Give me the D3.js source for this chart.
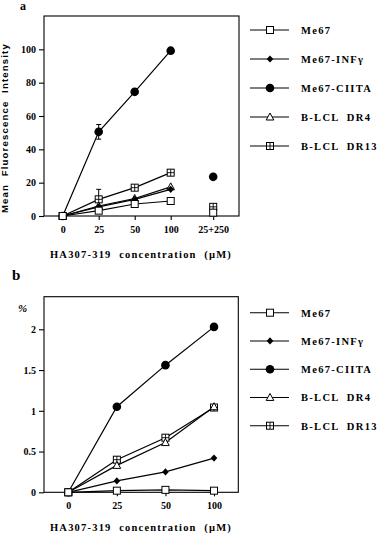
<!DOCTYPE html>
<html>
<head>
<meta charset="utf-8">
<script src="https://cdn.jsdelivr.net/npm/d3@7"></script>
<style>
  body { margin: 0; background: #fff; }
  svg { display: block; }
  text { font-weight: bold; fill: #000; }
</style>
</head>
<body>
<svg id="chart" width="378" height="533"></svg>
<script>
// panel a: mean fluorescence intensity
var catsA = ["0", "25", "50", "100", "25+250"];
var ticksA = [0, 20, 40, 60, 80, 100];
var me67A = [0, 3.2, 7.2, 9, 2];
var infA = [0, 5.5, 10, 16, null];
var ciitaA = [0, 50.5, 74.5, 99.2, 23.5];
var dr4A = [0, 6, 10.5, 17.5, null];
var dr13A = [0, 10, 17, 26, 5.5];
var ciitaErrA = [0, 4.4, 0, 0, 0];
var dr13ErrA = [0, 6, 0, 0, 0];

// panel b: percent
var catsB = ["0", "25", "50", "100"];
var ticksB = [0, 0.5, 1, 1.5, 2];
var me67B = [0, 0.02, 0.03, 0.02];
var infB = [0, 0.14, 0.25, 0.42];
var ciitaB = [0, 1.05, 1.56, 2.03];
var dr4B = [0, 0.33, 0.61, 1.05];
var dr13B = [0, 0.40, 0.67, 1.04];

var seriesNames = ["Me67", "Me67-INF\u03b3", "Me67-CIITA", "B-LCL  DR4", "B-LCL  DR13"];
var seriesShapes = ["square", "diamond", "circle", "triangle", "gridsquare"];

var serif = "'Liberation Serif', 'DejaVu Serif', serif";
var sans = "'Liberation Sans', 'DejaVu Sans', sans-serif";

var svg = d3.select("#chart");

function drawMarker(g, shape, x, y) {
    if (shape == "square") {
        g.append("rect").attr("x", x - 3.5).attr("y", y - 3.5).attr("width", 7).attr("height", 7)
            .attr("fill", "#fff").attr("stroke", "#000").attr("stroke-width", 1);
    } else if (shape == "gridsquare") {
        g.append("rect").attr("x", x - 3.5).attr("y", y - 3.5).attr("width", 7).attr("height", 7)
            .attr("fill", "#fff").attr("stroke", "#000").attr("stroke-width", 1);
        g.append("path").attr("d", "M" + x + "," + (y - 3.5) + "V" + (y + 3.5) + "M" + (x - 3.5) + "," + y + "H" + (x + 3.5))
            .attr("stroke", "#000").attr("stroke-width", 0.9);
    } else if (shape == "circle") {
        g.append("circle").attr("cx", x).attr("cy", y).attr("r", 4.3).attr("fill", "#000");
    } else if (shape == "diamond") {
        g.append("path").attr("d", "M" + x + "," + (y - 3.6) + "L" + (x + 3.3) + "," + y + "L" + x + "," + (y + 3.6) + "L" + (x - 3.3) + "," + y + "Z")
            .attr("fill", "#000");
    } else if (shape == "triangle") {
        g.append("path").attr("d", "M" + x + "," + (y - 4) + "L" + (x + 3.8) + "," + (y + 3) + "L" + (x - 3.8) + "," + (y + 3) + "Z")
            .attr("fill", "#fff").attr("stroke", "#000").attr("stroke-width", 1);
    }
}

function drawPanel(opts) {
    var g = svg.append("g");
    var x = opts.x, y = opts.y;

    g.append("rect")
        .attr("x", opts.left).attr("y", opts.top)
        .attr("width", opts.right - opts.left).attr("height", opts.bottom - opts.top)
        .attr("fill", "none").attr("stroke", "#000").attr("stroke-width", 1.1);

    // y ticks
    var yAxis = g.append("g").attr("transform", "translate(" + opts.left + ",0)")
        .call(d3.axisLeft(y).tickValues(opts.ticks).tickFormat(d3.format("~g")).tickSize(5).tickPadding(3));
    yAxis.select(".domain").remove();
    yAxis.selectAll("line").attr("stroke-width", 1.1);
    yAxis.selectAll("text").attr("font-size", 10).style("font-family", serif).attr("font-weight", "bold");

    // x ticks
    var xAxis = g.append("g").attr("transform", "translate(0," + opts.bottom + ")")
        .call(d3.axisBottom(x).tickSize(4).tickPadding(6));
    xAxis.select(".domain").remove();
    xAxis.selectAll("line").attr("stroke-width", 1.1);
    xAxis.selectAll("text").attr("font-size", 10).style("font-family", serif).attr("font-weight", "bold");

    g.append("text")
        .attr("x", opts.left + 6).attr("y", opts.titleY)
        .attr("font-size", 10.5).attr("letter-spacing", 1.2)
        .style("font-family", serif)
        .style("white-space", "pre")
        .text("HA307-319  concentration  (\u00b5M)");

    var series = opts.series;
    var nLine = opts.lineCount;
    var lineGen = d3.line()
        .defined(function (d) { return d.v != null; })
        .x(function (d) { return x(d.c); })
        .y(function (d) { return y(d.v); });

    series.forEach(function (vals) {
        var pts = vals.slice(0, nLine).map(function (v, i) { return { c: opts.cats[i], v: v }; });
        g.append("path").datum(pts).attr("d", lineGen)
            .attr("fill", "none").attr("stroke", "#000").attr("stroke-width", 1.2);
    });

    // error bars
    opts.errors.forEach(function (e) {
        e.err.forEach(function (err, i) {
            if (!err) return;
            var cx = x(opts.cats[i]);
            var y1 = y(e.vals[i] + err), y2 = y(e.vals[i] - err);
            g.append("path")
                .attr("d", "M" + cx + "," + y1 + "V" + y2 + "M" + (cx - 2.5) + "," + y1 + "H" + (cx + 2.5) + "M" + (cx - 2.5) + "," + y2 + "H" + (cx + 2.5))
                .attr("stroke", "#000").attr("stroke-width", 1);
        });
    });

    // Me67 squares end up on top, as in the original
    var order = [4, 3, 1, 2, 0];
    order.forEach(function (s) {
        series[s].forEach(function (v, i) {
            if (v == null) return;
            drawMarker(g, seriesShapes[s], x(opts.cats[i]), y(v));
        });
    });

    // legend
    seriesNames.forEach(function (name, i) {
        var ly = opts.legendY + i * opts.legendStep;
        g.append("line").attr("x1", 250).attr("x2", 289).attr("y1", ly).attr("y2", ly)
            .attr("stroke", "#000").attr("stroke-width", 1.1);
        drawMarker(g, seriesShapes[i], 270, ly);
        g.append("text").attr("x", 301).attr("y", ly + 3.8)
            .attr("font-size", 10.5).attr("letter-spacing", 1.3)
            .style("font-family", serif)
            .style("white-space", "pre")
            .text(name);
    });
}

// panel a: the 25+250 column sits a little further out, past a break in the lines
var yA = d3.scaleLinear().domain([0, 120]).range([216, 16]);
var xA0 = d3.scalePoint().domain(catsA).range([62.7, 206.7]);
var xA = function (c) { return xA0(c) + (c == "25+250" ? 6.5 : 0); };
xA.domain = xA0.domain;
xA.range = xA0.range;
xA.copy = function () { return xA; };

drawPanel({
    x: xA, y: yA, cats: catsA, ticks: ticksA,
    left: 44, right: 239, top: 16, bottom: 216,
    titleY: 258, lineCount: 4,
    series: [me67A, infA, ciitaA, dr4A, dr13A],
    errors: [{ vals: ciitaA, err: ciitaErrA }, { vals: dr13A, err: dr13ErrA }],
    legendY: 30, legendStep: 29
});

svg.append("text").attr("x", 20).attr("y", 10).attr("font-size", 12).style("font-family", serif).text("a");
svg.append("text")
    .attr("transform", "translate(8,213) rotate(-90)")
    .style("font-family", sans).attr("font-size", 9.5).attr("letter-spacing", 1.2)
    .style("white-space", "pre")
    .text("Mean  Fluorescence  Intensity");

// panel b
var yB = d3.scaleLinear().domain([0, 2.4]).range([492.3, 296.7]);
var xB = d3.scalePoint().domain(catsB).range([44, 238.3]).padding(0.5);

drawPanel({
    x: xB, y: yB, cats: catsB, ticks: ticksB,
    left: 44, right: 238.3, top: 296.7, bottom: 492.3,
    titleY: 531, lineCount: 4,
    series: [me67B, infB, ciitaB, dr4B, dr13B],
    errors: [],
    legendY: 312.7, legendStep: 28.25
});

svg.append("text").attr("x", 12).attr("y", 280).attr("font-size", 15).style("font-family", serif).text("b");
svg.append("text").attr("x", 18).attr("y", 312).attr("font-size", 11).attr("font-style", "italic").style("font-family", serif).text("%");
</script>
</body>
</html>
